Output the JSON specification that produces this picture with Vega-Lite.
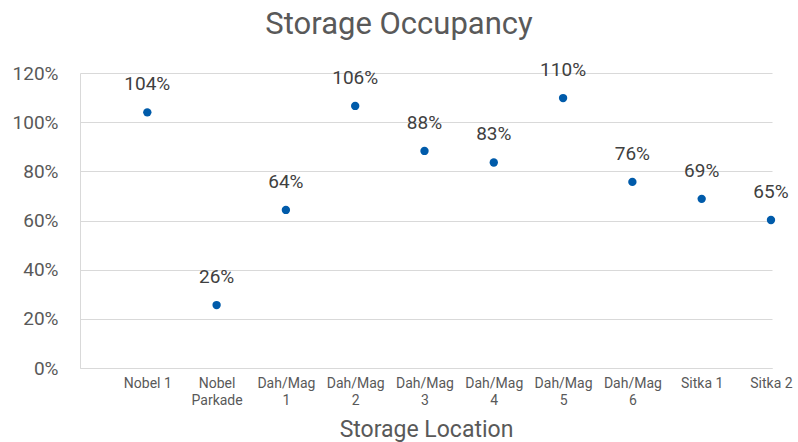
{
  "$schema": "https://vega.github.io/schema/vega-lite/v6.json",
  "autosize": {"type": "none"},
  "width": 692,
  "height": 295,
  "padding": {"left": 80, "top": 73, "right": 26, "bottom": 74},
  "background": "white",
  "config": {
    "font": "Roboto",
    "view": {"stroke": null}
  },
  "title": {
    "text": "Storage Occupancy",
    "fontSize": 31,
    "fontWeight": "normal",
    "color": "#595959",
    "anchor": "middle",
    "dx": -27,
    "offset": 20
  },
  "data": {
    "values": [
      {"location": "Nobel 1", "occupancy": 1.04, "label": "104%"},
      {"location": "Nobel Parkade", "occupancy": 0.256, "label": "26%"},
      {"location": "Dah/Mag 1", "occupancy": 0.643, "label": "64%"},
      {"location": "Dah/Mag 2", "occupancy": 1.066, "label": "106%"},
      {"location": "Dah/Mag 3", "occupancy": 0.883, "label": "88%"},
      {"location": "Dah/Mag 4", "occupancy": 0.836, "label": "83%"},
      {"location": "Dah/Mag 5", "occupancy": 1.098, "label": "110%"},
      {"location": "Dah/Mag 6", "occupancy": 0.757, "label": "76%"},
      {"location": "Sitka 1", "occupancy": 0.688, "label": "69%"},
      {"location": "Sitka 2", "occupancy": 0.602, "label": "65%"}
    ]
  },
  "encoding": {
    "x": {
      "field": "location",
      "type": "nominal",
      "sort": null,
      "scale": {"type": "point", "padding": 0.493, "align": 0.985},
      "axis": {
        "title": "Storage Location",
        "titleFontSize": 23,
        "titleFontWeight": "normal",
        "titleColor": "#595959",
        "titlePadding": 11,
        "labelAngle": 0,
        "labelFontSize": 14,
        "labelColor": "#595959",
        "labelPadding": 8,
        "labelLineHeight": 17,
        "labelExpr": "length(datum.label) > 7 ? split(datum.label, ' ') : datum.label",
        "ticks": false,
        "domainColor": "#d9d9d9",
        "grid": false
      }
    },
    "y": {
      "field": "occupancy",
      "type": "quantitative",
      "scale": {"domain": [0, 1.2], "nice": false},
      "axis": {
        "title": null,
        "format": ".0%",
        "values": [0, 0.2, 0.4, 0.6, 0.8, 1.0, 1.2],
        "labelFontSize": 19,
        "labelColor": "#595959",
        "labelPadding": 22,
        "ticks": false,
        "domainColor": "#d9d9d9",
        "gridColor": "#d9d9d9",
        "gridWidth": 1
      }
    }
  },
  "layer": [
    {
      "mark": {"type": "point", "filled": true, "size": 70, "color": "#005BAA", "opacity": 1}
    },
    {
      "mark": {"type": "text", "dy": -28, "fontSize": 19, "color": "#404040"},
      "encoding": {"text": {"field": "label"}}
    }
  ]
}
